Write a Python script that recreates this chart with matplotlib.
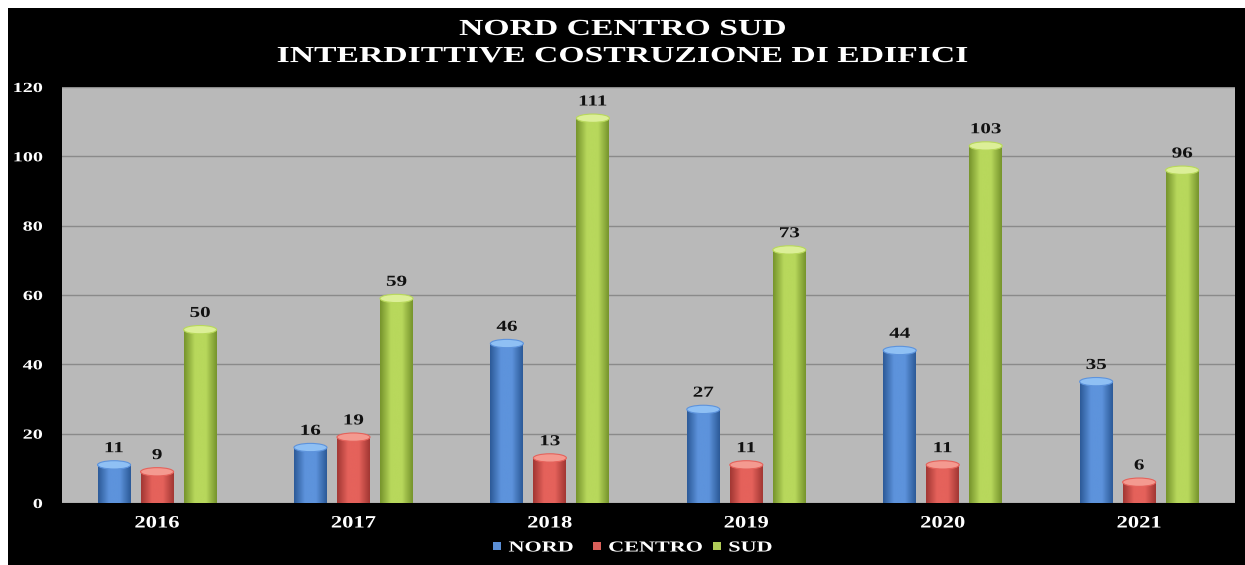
import matplotlib
matplotlib.use("Agg")
import matplotlib.pyplot as plt
import numpy as np
from matplotlib.colors import LinearSegmentedColormap
from matplotlib.patches import Ellipse, Rectangle, Patch
from matplotlib.patheffects import AbstractPathEffect
from matplotlib.transforms import Affine2D

years = ["2016", "2017", "2018", "2019", "2020", "2021"]
nord = [11, 16, 46, 27, 44, 35]
centro = [9, 19, 13, 11, 11, 6]
sud = [50, 59, 111, 73, 103, 96]
series_names = ["NORD", "CENTRO", "SUD"]
title = "NORD CENTRO SUD\nINTERDITTIVE COSTRUZIONE DI EDIFICI"

styles = {
    "NORD": dict(edge="#2c5a98", mid="#5d93dc", cap="#8fc0f4", legend="#5b8fd6"),
    "CENTRO": dict(edge="#a23733", mid="#e5625b", cap="#f49a90", legend="#d9605a"),
    "SUD": dict(edge="#76942c", mid="#b8d85c", cap="#dcef98", legend="#b0cc58"),
}


class Stretch(AbstractPathEffect):
    """Stretch text glyphs horizontally (the reference text is wide)."""

    def __init__(self, sx, anchor="center"):
        super().__init__()
        self.sx = sx
        self.anchor = anchor

    def draw_path(self, renderer, gc, tpath, affine, rgbFace=None):
        ext = tpath.get_extents()
        if self.anchor == "center":
            cx = (ext.x0 + ext.x1) / 2
        elif self.anchor == "right":
            cx = ext.x1
        else:
            cx = ext.x0
        t = Affine2D().translate(-cx, 0).scale(self.sx, 1).translate(cx, 0) + affine
        renderer.draw_path(gc, tpath, t, rgbFace)


FONT = "Liberation Serif"
W, H = 1245, 565
fig = plt.figure(figsize=(W / 100, H / 100), dpi=100, facecolor="white")
fig.patches.append(Rectangle((8 / W, 0), 1 - 8 / W, 1 - 8 / H, transform=fig.transFigure,
                             facecolor="black", edgecolor="none", zorder=-10))

ax = fig.add_axes([62 / W, 1 - 503 / H, (1235 - 62) / W, (503 - 87) / H])
ax.set_facecolor("#b9b9b9")
ax.set_yticks(range(0, 121, 20))
ax.yaxis.grid(True, color="#8a8a8a", lw=1.0)
ax.set_axisbelow(True)
for s in ax.spines.values():
    s.set_visible(False)

x = np.arange(len(years))
offs = [-0.219, 0.0, 0.219]
bw = 0.168
cap_h = 2.4

for name, vals, off in zip(series_names, [nord, centro, sud], offs):
    st = styles[name]
    cmap = LinearSegmentedColormap.from_list(name, [st["edge"], st["mid"], st["mid"], st["edge"]])
    bars = ax.bar(x + off, vals, width=bw, color=st["mid"], edgecolor="none", zorder=2)
    grad = np.linspace(0, 1, 64).reshape(1, -1)
    for b, v in zip(bars, vals):
        x0, w, h = b.get_x(), b.get_width(), b.get_height()
        im = ax.imshow(grad, cmap=cmap, extent=[x0, x0 + w, 0, h], aspect="auto",
                       zorder=3, interpolation="bicubic")
        im.set_clip_path(b)
        ax.add_patch(Ellipse((x0 + w / 2, h), w, cap_h, facecolor=st["cap"],
                             edgecolor=st["mid"], lw=0.8, zorder=4))
        ax.text(x0 + w / 2, h + 2.8, str(v), ha="center", va="bottom", fontsize=11,
                fontweight="bold", family=FONT, color="#111111", zorder=5,
                path_effects=[Stretch(1.38)])

ax.set_xlim(-0.484, 5.488)
ax.set_ylim(0, 120)
ax.set_xticks(x)
ax.set_xticklabels(years)
ax.tick_params(axis="both", length=0)
ax.tick_params(axis="y", pad=14)
ax.tick_params(axis="x", pad=9)
for lab in ax.get_xticklabels():
    lab.set(color="white", fontsize=12.5, fontweight="bold", family=FONT,
            path_effects=[Stretch(1.3)])
for lab in ax.get_yticklabels():
    lab.set(color="white", fontsize=10, fontweight="bold", family=FONT,
            path_effects=[Stretch(1.45, "right")])

fig.text(0.5, 1 - 43 / H, title, ha="center", va="center", color="white",
         fontsize=16.5, fontweight="bold", family=FONT, linespacing=1.38,
         path_effects=[Stretch(1.47)])

handles = [Patch(facecolor=styles[n]["legend"], edgecolor="none") for n in series_names]
leg = fig.legend(handles, series_names, loc="center", bbox_to_anchor=(0.503, 1 - 548 / H),
                 ncol=3, frameon=False, handlelength=0.5, handleheight=0.5,
                 handletextpad=0.5, columnspacing=2.6,
                 prop=dict(family=FONT, weight="bold", size=11))
for t in leg.get_texts():
    t.set_color("white")
    t.set_path_effects([Stretch(1.45, "left")])

fig.savefig("out.png", dpi=100, facecolor=fig.get_facecolor())
